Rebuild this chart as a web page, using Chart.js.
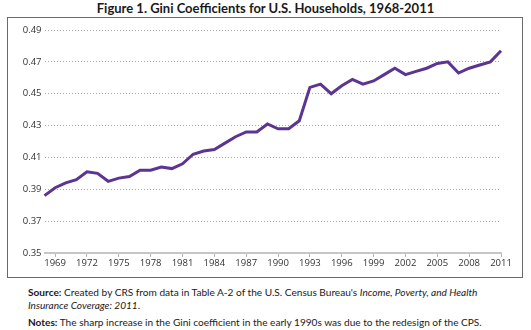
<!DOCTYPE html>
<html>
<head>
<meta charset="utf-8">
<script src="https://cdn.jsdelivr.net/npm/chart.js@4.4.0/dist/chart.umd.min.js"></script>
<style>
  body{margin:0;background:#fff;width:531px;height:330px;position:relative;overflow:hidden;font-family:"Lato",sans-serif;color:#1a1a1a}
  #title{position:absolute;top:0px;left:0;width:531px;text-align:center;font-weight:bold;font-size:13px}
  #box{position:absolute;left:7px;top:17px;width:516px;height:261px;border:1px solid #6a6a6a;box-sizing:border-box}
  #box canvas{position:absolute;left:0;top:0}
  .note{position:absolute;left:28px;font-size:10.1px;line-height:13px;white-space:nowrap}
</style>
</head>
<body>
<div id="title">Figure 1. Gini Coefficients for U.S. Households, 1968-2011</div>
<div id="box"><canvas id="gini" width="514" height="259"></canvas></div>
<div class="note" style="top:286px"><b>Source:</b> Created by CRS from data in Table A-2 of the U.S. Census Bureau's <i>Income, Poverty, and Health</i><br><i>Insurance Coverage: 2011</i>.</div>
<div class="note" style="top:316px"><b>Notes:</b> The sharp increase in the Gini coefficient in the early 1990s was due to the redesign of the CPS.</div>
<script>
// ======= DATA =======
const years = [1968,1969,1970,1971,1972,1973,1974,1975,1976,1977,1978,1979,1980,1981,1982,1983,1984,1985,1986,1987,1988,1989,
  1990,1991,1992,1993,1994,1995,1996,1997,1998,1999,2000,2001,2002,2003,2004,2005,2006,2007,2008,2009,2010,2011];
const gini = [0.386,0.391,0.394,0.396,0.401,0.400,0.395,0.397,0.398,0.402,0.402,0.404,0.403,0.406,0.412,0.414,0.415,0.419,0.423,0.426,0.426,0.431,
  0.428,0.428,0.433,0.454,0.456,0.450,0.455,0.459,0.456,0.458,0.462,0.466,0.462,0.464,0.466,0.469,0.470,0.463,0.466,0.468,0.470,0.477];
const labelYears = [1969,1972,1975,1978,1981,1984,1987,1990,1993,1996,1999,2002,2005,2008,2011];
const yMin = 0.35, yMax = 0.49, yStep = 0.02;

// ======= CHART =======
const tickFont = { family: "'Open Sans', sans-serif", size: 9.5 };

new Chart(document.getElementById("gini"), {
  type: "line",
  data: {
    labels: years,
    datasets: [{
      data: gini,
      borderColor: "#5c3592",
      borderWidth: 3,
      pointRadius: 0,
      tension: 0,
      fill: false
    }]
  },
  options: {
    responsive: false,
    animation: false,
    layout: { padding: { top: 12, right: 21, left: 0, bottom: 0 } },
    plugins: { legend: { display: false }, tooltip: { enabled: false } },
    scales: {
      x: {
        offset: false,
        afterFit: s => { s.height = 24; },
        ticks: {
          autoSkip: false, maxRotation: 0, padding: 1, color: "#333", font: tickFont,
          callback: (v, i) => labelYears.includes(years[i]) ? String(years[i]) : ""
        },
        grid: {
          drawOnChartArea: false, drawTicks: true, tickLength: 4, lineWidth: 1,
          color: c => (c.tick && labelYears.includes(years[c.index])) ? "#b4b4b4" : "rgba(0,0,0,0)"
        },
        border: { display: true, color: "#c6c6c6", width: 2 }
      },
      y: {
        min: yMin, max: yMax,
        afterFit: s => { s.width = 36.5; },
        ticks: {
          stepSize: yStep, padding: 3, color: "#333", font: tickFont,
          callback: v => v.toFixed(2)
        },
        grid: {
          drawTicks: false, lineWidth: 1,
          color: c => c.index === 0 ? "rgba(0,0,0,0)" : "#a8a8a8"
        },
        border: { display: false, dash: [1, 2] }
      }
    }
  }
});
</script>
</body>
</html>
